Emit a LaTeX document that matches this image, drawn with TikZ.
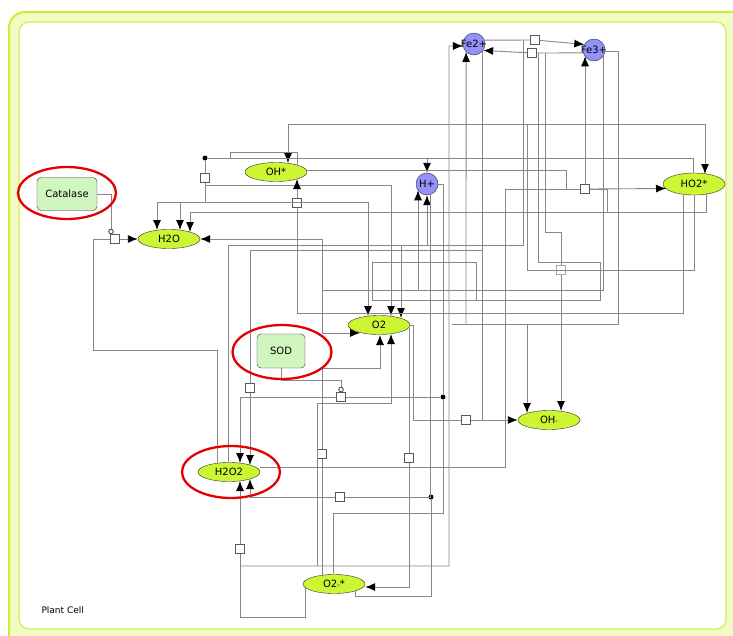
\documentclass[tikz,border=0pt]{standalone}
\usepackage{xcolor}
\usepackage{fontspec}
\setmainfont{DejaVu Sans}
\usepackage{tikz}
\usetikzlibrary{arrows.meta,shapes.geometric}
\definecolor{SpLime}{RGB}{204,245,51}
\definecolor{IonBlue}{RGB}{146,146,248}
\definecolor{EnzGreen}{RGB}{208,245,190}
\definecolor{CellBand}{RGB}{244,250,196}
\definecolor{CellEdge}{RGB}{208,236,50}
\definecolor{WireGray}{RGB}{135,135,135}

\tikzset{
  species/.style={ellipse, draw=black!80, fill=SpLime, minimum width=62pt, minimum height=19pt, inner sep=0pt, font=\fontsize{10}{12}\selectfont},
  ion/.style={circle, draw=black!80, fill=IonBlue, minimum size=22pt, inner sep=0pt, font=\fontsize{10}{12}\selectfont},
  enzyme/.style={rectangle, rounded corners=4pt, draw=black!80, fill=EnzGreen, inner sep=0pt, font=\fontsize{10}{12}\selectfont},
  proc/.style={rectangle, draw=black!65, fill=white, minimum size=9pt, inner sep=0pt},
  jdot/.style={circle, fill=black, minimum size=5pt, inner sep=0pt},
  ring/.style={ellipse, draw=red!90!black, line width=2.3pt},
  ln/.style={draw=WireGray, line width=0.9pt},
  arr/.style={ln, -{Latex[length=10pt,width=8pt,color=black]}},
  mod/.style={ln, -{Circle[length=5.5pt,width=5.5pt,color=black!70,fill=white]}},
}

\begin{document}
\begin{tikzpicture}[x=1pt,y=-1pt]
  \useasboundingbox (0,0) rectangle (733,635);
  % compartment
  \draw[draw=CellEdge, fill=CellBand, line width=2pt, rounded corners=16pt] (9,12) rectangle (760,660);
  \draw[draw=CellEdge!85, fill=white, line width=1.2pt, rounded corners=10pt] (19,22) rectangle (726,629);
  \node[anchor=west, font=\fontsize{9}{10}\selectfont] (cellname) at (38,610) {Plant Cell};

  % species
  \node[ion, label={center:Fe2+}] (fe2) at (474,44) {};
  \node[ion, label={center:Fe3+}] (fe3) at (594,50) {};
  \node[ion] (hp) at (427,184) {H+};
  \node[species] (oh) at (276,172) {OH*};
  \node[species, minimum height=22pt] (ho2) at (694,184) {HO2*};
  \node[species] (h2o) at (169,239) {H2O};
  \node[species] (o2) at (379,325) {O2};
  \node[species] (ohm) at (549,420) {OH{\fontsize{7}{8}\selectfont -}};
  \node[species] (h2o2) at (229,472) {H2O2};
  \node[species] (o2m) at (334,584) {O2{\fontsize{7}{8}\selectfont -}*};
  \node[enzyme, minimum width=60pt, minimum height=33pt] (catalase) at (67,194) {Catalase};
  \node[enzyme, minimum width=48pt, minimum height=34pt] (sod) at (281,351) {SOD};

  % process squares and joins
  \node[proc] (p1) at (535,40) {};
  \node[proc] (p2) at (532,53) {};
  \node[proc] (p3) at (205,178) {};
  \node[proc] (p4) at (297,203) {};
  \node[proc] (p5) at (115,239) {};
  \node[proc] (p6) at (585,189) {};
  \node[proc] (p7) at (250,388) {};
  \node[proc] (p8) at (341,397) {};
  \node[proc] (p9) at (466,420) {};
  \node[proc] (p10) at (409,458) {};
  \node[proc] (p11) at (322,454) {};
  \node[proc] (p12) at (340,497) {};
  \node[proc] (p13) at (240,549) {};
  \node[proc, draw=black!35] (p14) at (561,270) {};
  \node[jdot] (d1) at (205,158) {};
  \node[jdot] (d2) at (443,397) {};
  \node[jdot] (d3) at (431,497) {};

  % iron cycle
  \draw[ln] (fe2.20) -- (p1);
  \draw[arr] (p1) -- (fe3.150);
  \draw[ln] (fe3.195) -- (p2);
  \draw[arr] (p2) -- (fe2.-35);
  \draw[arr] (240,566) -| (449,46) -- (fe2.190);
  \draw[arr] (466,324) -- (fe2.225);
  \draw[ln] (fe2.-40) |- (p9.east);
  \draw[ln] (482,250) -- (250,250) -- (p7);
  \draw[arr] (p7) -- ([xshift=21pt,yshift=7pt]h2o2.center);
  \draw[ln] (523,40) -- (523,245) -| ([xshift=-1pt]h2o2.north);
  \draw[ln] (545,53) |- (561,232) -- (p14);
  \draw[arr] (p14) -- ([xshift=12pt,yshift=9pt]ohm.center);
  \draw[arr] (p6.north) -- ([xshift=-9pt,yshift=-6.3pt]fe3.center);
  \draw[ln] ([xshift=9pt,yshift=-6.3pt]fe3.center) |- (322,290);
  \draw[ln] (fe3.-10) -| (618,324) -- (452,324);
  \draw[arr] (527,324) -- ([xshift=-22pt,yshift=7pt]ohm.center);

  % radicals
  \draw[ln] (ho2.south) |- (527,270) -- (527,124);
  \draw[arr] (527,124) -| ([xshift=12pt,yshift=9pt]oh.center);
  \draw[arr] (527,124) -| ([xshift=11pt,yshift=10pt]ho2.center);
  \draw[ln] (d1) -| ([xshift=-1pt]ho2.north);
  \draw[ln] (230,158) -- (230,152) -| ([xshift=21pt,yshift=7pt]oh.center);
  \draw[arr] (427,158) -- (hp.north);
  \draw[ln] (d1) -- (p3);
  \draw[arr] (p3.south) |- (391,185) -- ([xshift=12pt,yshift=9pt]o2.center);
  \draw[arr] (p3.south) |- (368,202) -- ([xshift=-11pt,yshift=9pt]o2.center);
  \draw[arr] (205,202) -| ([xshift=-12pt,yshift=9pt]h2o.center);
  \draw[arr] (180,202) -- ([xshift=11pt,yshift=9pt]h2o.center);
  \draw[ln] ([yshift=2pt]oh.east) -| (566,189) -- (p6.west);
  \draw[arr] (p6.east) -- ([xshift=-28pt,yshift=-4.5pt]ho2.center);
  \draw[ln] ([xshift=12pt,yshift=-9pt]ho2.center) |- (190,212);
  \draw[arr] (190,212) -- ([xshift=21pt,yshift=7pt]h2o.center);
  \draw[ln] (p6.east) -| (607,212);
  \draw[ln] ([yshift=5pt]h2o2.east) -- (505,467) |- (p6.west);
  \draw[arr] (418,290) -- ([xshift=-9pt,yshift=-6.3pt]hp.center);
  \draw[arr] (427,245) -- (hp.south);
  \draw[arr] (401,245) -- ([xshift=22pt,yshift=7pt]o2.center);
  \draw[arr] (322,290) -- (322,239) -- (h2o.east);
  \draw[arr] (322,290) |- ([xshift=-19pt,yshift=-8pt]o2.center);
  \draw[ln] ([xshift=-11pt,yshift=-10pt]ho2.center) |- (297,313) -- (p4);
  \draw[arr] (p4) -- ([xshift=21pt,yshift=-7pt]oh.center);
  \draw[ln] (476,300) -- (476,262) -- (372,262) -- (372,300) -- (600,300) -- (600,262) -- (538,262) -- (538,53);

  % catalase
  \draw[mod] (catalase.east) -| ([xshift=-4pt]p5.north);
  \draw[ln] ([xshift=-12pt,yshift=9pt]h2o2.center) |- (93,350) |- (p5.west);
  \draw[arr] (p5.east) -- (h2o.west);

  % oxygen
  \draw[ln] (o2.east) -| (413,420) -- (p9.west);
  \draw[arr] (p9.east) -- (ohm.west);
  \draw[ln] ([xshift=30pt,yshift=-2.5pt]o2.center) -- (p10);
  \draw[arr] (p10) |- ([yshift=-3pt]o2m.east);

  % SOD
  \draw[mod] (sod.south) |- (341,380) -- (p8.north);
  \draw[ln] (d2) -- (p8);
  \draw[arr] (p8) -| ([xshift=11pt,yshift=9pt]h2o2.center);
  \draw[ln] (hp.east) -| (d2);
  \draw[ln] ([xshift=-1pt,yshift=10pt]o2m.center) |- (443,513) -- (d2);

  % superoxide
  \draw[ln] ([xshift=-12pt,yshift=9pt]o2m.center) -- (p11);
  \draw[arr] (p11) |- (380,368) -- ([xshift=1pt,yshift=-10pt]o2.center);
  \draw[arr] (317,566) -- (317,403) -| ([xshift=12pt,yshift=-9pt]o2.center);
  \draw[ln] (hp.-70) |- (d3);
  \draw[ln] ([xshift=21pt,yshift=-7pt]o2m.center) |- (431,596) -- (d3);
  \draw[ln] (d3) -- (p12);
  \draw[arr] (p12) -| ([xshift=21pt,yshift=-7pt]h2o2.center);
  \draw[ln] ([xshift=-29pt,yshift=-3.5pt]o2m.center) |- (240,617) -- (p13);
  \draw[arr] (p13) -- ([xshift=11pt,yshift=-9pt]h2o2.center);

  % highlights
  \node[ring, minimum width=98pt, minimum height=52pt] (catring) at (67,193) {};
  \node[ring, minimum width=99pt, minimum height=54pt] (sodring) at (282,352) {};
  \node[ring, minimum width=98pt, minimum height=52pt] (h2o2ring) at (231,472) {};
\end{tikzpicture}
\end{document}
